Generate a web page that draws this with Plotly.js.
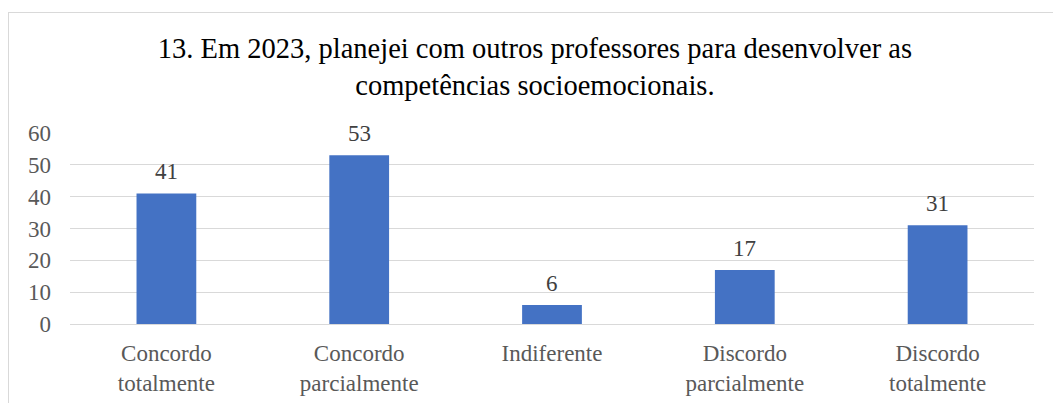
<!DOCTYPE html>
<html>
<head>
<meta charset="utf-8">
<script src="https://cdn.plot.ly/plotly-3.0.1.min.js"></script>
<style>
  html, body { margin: 0; padding: 0; background: #fff; }
  #frame { position: absolute; left: 8px; top: 12px; width: 1060px; height: 400px;
           border-left: 1px solid #d9d9d9; border-top: 1px solid #d9d9d9; }
  #chart { position: absolute; left: 0; top: 0; width: 1053px; height: 403px; }
</style>
</head>
<body>
<div id="frame"></div>
<div id="chart"></div>
<script>
const categories = [
  "Concordo<br>totalmente",
  "Concordo<br>parcialmente",
  "Indiferente",
  "Discordo<br>parcialmente",
  "Discordo<br>totalmente",
];
const counts = [41, 53, 6, 17, 31];
const yTicks = [0, 10, 20, 30, 40, 50, 60];

const serif = "Liberation Serif, Times New Roman, serif";

// Bars
const barTrace = {
  x: categories,
  y: counts,
  type: "bar",
  marker: { color: "#4472C4" },
  hoverinfo: "x+y",
};

// Value labels above each bar
const labels = categories.map((c, i) => ({
  x: c,
  y: counts[i],
  text: String(counts[i]),
  showarrow: false,
  yanchor: "bottom",
  yshift: 7,
  font: { family: serif, size: 23, color: "#404040" },
}));

var layout = {
  width: 1053,
  height: 403,
  paper_bgcolor: "rgba(0,0,0,0)",
  plot_bgcolor: "rgba(0,0,0,0)",
  margin: { l: 70, r: 19, t: 133, b: 79 },
  bargap: 0.69,
  showlegend: false,
  title: {
    text: "13. Em 2023, planejei com outros professores para desenvolver as<br>competências socioemocionais.",
    x: 0.508,
    xanchor: "center",
    yref: "container",
    y: 0.857,
    yanchor: "middle",
    font: { family: serif, size: 28.5, color: "#000000" },
  },
  xaxis: {
    type: "category",
    tickfont: { family: serif, size: 23, color: "#595959" },
    showline: true,
    linecolor: "#d9d9d9",
    linewidth: 1,
    ticks: "",
    ticklabelstandoff: 8,
    fixedrange: true,
  },
  yaxis: {
    range: [0, 60],
    tickvals: yTicks,
    ticktext: yTicks.map(String),
    tickfont: { family: serif, size: 23, color: "#595959" },
    showgrid: true,
    gridcolor: "#d9d9d9",
    gridwidth: 1,
    zeroline: false,
    showline: false,
    ticks: "",
    ticklabelstandoff: 18,
    fixedrange: true,
  },
  annotations: labels,
};

Plotly.newPlot("chart", [barTrace], layout, { displayModeBar: false, staticPlot: true });
</script>
</body>
</html>
